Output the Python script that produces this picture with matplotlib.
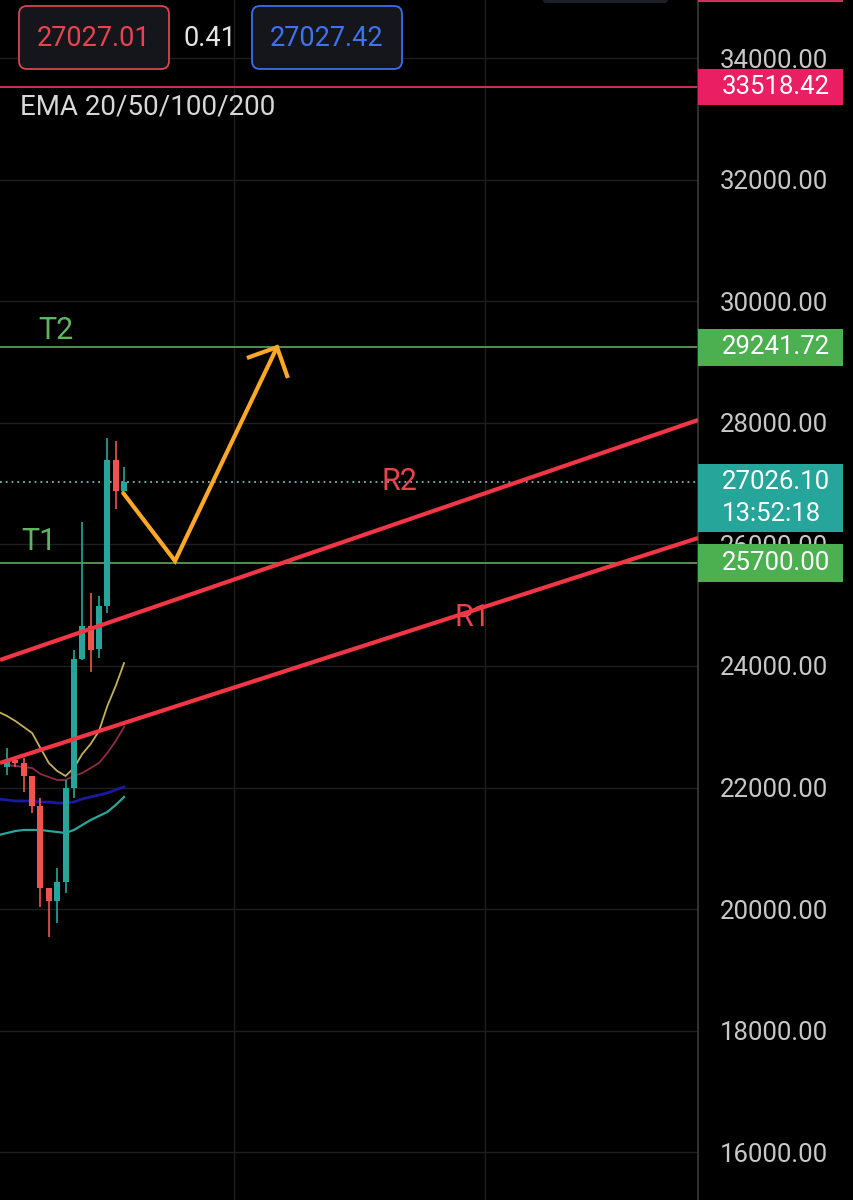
import numpy as np
import matplotlib
matplotlib.use('Agg')
import matplotlib.pyplot as plt
from matplotlib.patches import FancyBboxPatch, Rectangle

plt.rcParams['font.family'] = ['Roboto', 'DejaVu Sans']

# candles
opens = [22339, 22410, 22405, 22191, 21697, 20349, 20135, 20447, 21993, 24115, 24658, 24280, 24987, 27388, 26878]
highs = [22651, 22470, 22487, 22191, 21829, 20349, 20678, 22125, 24263, 26368, 25201, 25151, 27750, 27701, 27273]
lows = [22207, 22340, 21928, 21582, 20036, 19543, 19773, 20266, 21829, 24099, 23901, 24132, 24872, 26582, 26878]
closes = [22421, 22400, 22191, 21697, 20349, 20135, 20447, 21993, 24115, 24658, 24263, 24987, 27388, 26878, 27026]

# EMA 20/50/100/200
ema20 = [23243, 23178, 23095, 22997, 22898, 22651, 22405, 22273, 22191, 22322, 22553, 22717, 22931, 23342, 23671, 24049]
ema50 = [None, 22372, 22355, 22339, 22322, 22224, 22174, 22125, 22125, 22191, 22240, 22322, 22405, 22569, 22766, 22997]
ema100 = [21813, 21796, 21780, 21780, 21780, 21763, 21763, 21747, 21747, 21763, 21813, 21845, 21878, 21911, 21961, 22010]
ema200 = [21220, 21253, 21286, 21303, 21303, 21303, 21286, 21270, 21253, 21303, 21385, 21467, 21533, 21599, 21714, 21845]

# drawn lines
r2_x = [-0.84, 82.66]
r2_y = [24099, 28046]
r1_x = [-0.84, 82.66]
r1_y = [22405, 26105]
t1 = 25700.00
t2 = 29241.72
alert = 33518.42
last = 27026.10
path_x = [13.9, 20.1, 32.3]
path_y = [26845, 25727, 29244]
head_x = [28.7, 32.3, 33.6]
head_y = [29066, 29244, 28737]

yticks = np.arange(16000, 34001, 2000)

fig = plt.figure(figsize=(8.54, 12), dpi=100)
fig.patch.set_facecolor('black')
ax = fig.add_axes([0, 0, 698 / 854, 1])
ax.set_facecolor('black')
ax.set_xlim(-0.84, 82.66)
ax.set_ylim(15217, 34954)

for s in ['top', 'left', 'bottom']:
    ax.spines[s].set_visible(False)
ax.spines['right'].set_color('#3a3a3a')
ax.spines['right'].set_linewidth(1.2)

ax.yaxis.tick_right()
ax.set_yticks(yticks)
ax.set_yticklabels(['%.2f' % v for v in yticks], color='#c8c8c8', fontsize=18.5)
ax.tick_params(axis='y', length=0, pad=16)
ax.set_xticks([27.2, 57.2])
ax.tick_params(axis='x', length=0, labelbottom=False)
ax.grid(True, color='#1f1f1f', linewidth=1)

# EMAs
idx = np.arange(-1, 15)
e50 = np.array([np.nan if v is None else v for v in ema50], dtype=float)
ax.plot(idx, ema200, color='#27a79b', lw=1.6, zorder=3)
ax.plot(idx, ema100, color='#1a1aa0', lw=2.0, zorder=3)
ax.plot(idx, e50, color='#8e2a48', lw=1.3, zorder=3)
ax.plot(idx, ema20, color='#c4b05a', lw=1.3, zorder=3)

# candles
x = np.arange(len(opens))
o = np.array(opens)
c = np.array(closes)
cols = ['#26a69a' if cc >= oo else '#ef5350' for oo, cc in zip(o, c)]
ax.vlines(x, lows, highs, colors=cols, lw=1.2, zorder=4)
ax.bar(x, np.maximum(np.abs(c - o), 60), bottom=np.minimum(o, c), width=0.72, color=cols, zorder=4)

# horizontal levels
ax.axhline(alert, color='#d0305a', lw=1.4, zorder=2)
ax.axhline(t2, color='#5fa85f', lw=1.2, zorder=2)
ax.axhline(t1, color='#5fa85f', lw=1.2, zorder=2)
ax.axhline(last, color='#7fb5b0', lw=1.3, ls=(0, (1, 2.2)), zorder=2)

# R lines
ax.plot(r2_x, r2_y, color='#f23645', lw=3.0, zorder=5, solid_capstyle='butt')
ax.plot(r1_x, r1_y, color='#f23645', lw=3.0, zorder=5, solid_capstyle='butt')

# arrow path
ax.plot(path_x, path_y, color='#ffa726', lw=3.0, zorder=6, solid_capstyle='round', solid_joinstyle='miter')
ax.plot(head_x, head_y, color='#ffa726', lw=3.0, zorder=6, solid_capstyle='butt', solid_joinstyle='miter')

# labels on the chart
ax.text(3.7, 29520, 'T2', color='#5fb55f', fontsize=22, ha='left', va='center')
ax.text(1.7, 26040, 'T1', color='#5fb55f', fontsize=22, ha='left', va='center')
ax.text(46.9, 27040, 'R2', color='#e8434f', fontsize=22, ha='center', va='center')
ax.text(55.7, 24790, 'R1', color='#e8434f', fontsize=22, ha='center', va='center')

# price scale labels
def scale_box(price, text, color, h=36):
    py = ax.transData.transform((0, price))[1]
    rect = Rectangle((698 / 100, (py - h / 2) / 100), 145 / 100, h / 100,
                     transform=fig.dpi_scale_trans, facecolor=color, edgecolor='none', zorder=10)
    fig.patches.append(rect)
    fig.text(722 / 854, py / 1200, text, color='white', fontsize=18.5, ha='left', va='center', zorder=11)

scale_box(alert, '33518.42', '#e91e63')
scale_box(t2, '29241.72', '#4caf50', h=37)
scale_box(t1, '25700.00', '#4caf50', h=38)
py_last = ax.transData.transform((0, last))[1]
fig.patches.append(Rectangle((698 / 100, (py_last - 50) / 100), 145 / 100, 68 / 100,
                             transform=fig.dpi_scale_trans, facecolor='#26a69a', edgecolor='none', zorder=10))
fig.text(722 / 854, py_last / 1200, '27026.10', color='white', fontsize=18.5, ha='left', va='center', zorder=11)
fig.text(722 / 854, (py_last - 32) / 1200, '13:52:18', color='white', fontsize=18.5, ha='left', va='center', zorder=11)

# header boxes
def head_box(x0, x1, edge, text, tcolor):
    b = FancyBboxPatch((x0 / 100, (1200 - 69) / 100), (x1 - x0) / 100, 63 / 100,
                       boxstyle='round,pad=0,rounding_size=0.08', transform=fig.dpi_scale_trans,
                       facecolor='#15161c', edgecolor=edge, lw=1.3, zorder=10)
    fig.patches.append(b)
    fig.text((x0 + x1) / 2 / 854, (1200 - 38) / 1200, text, color=tcolor, fontsize=19.5,
             ha='center', va='center', zorder=11)

head_box(19, 169, '#d9444f', '27027.01', '#e8434f')
head_box(252, 402, '#3a6df0', '27027.42', '#3f72f2')
fig.text(210 / 854, (1200 - 38) / 1200, '0.41', color='#e6e6e6', fontsize=19.5, ha='center', va='center')
fig.text(20 / 854, (1200 - 107) / 1200, 'EMA 20/50/100/200', color='#d8d8d8', fontsize=20, ha='left', va='center')

# cut-off pieces at top
fig.patches.append(FancyBboxPatch((543 / 100, 1197 / 100), 125 / 100, 10 / 100,
                                  boxstyle='round,pad=0,rounding_size=0.03', transform=fig.dpi_scale_trans,
                                  facecolor='#1c1f26', edgecolor='none', zorder=10))
fig.patches.append(Rectangle((698 / 100, 1198 / 100), 145 / 100, 2 / 100, transform=fig.dpi_scale_trans,
                             facecolor='#d0305a', edgecolor='none', zorder=10))

fig.savefig('out.png', dpi=100, facecolor='black')
